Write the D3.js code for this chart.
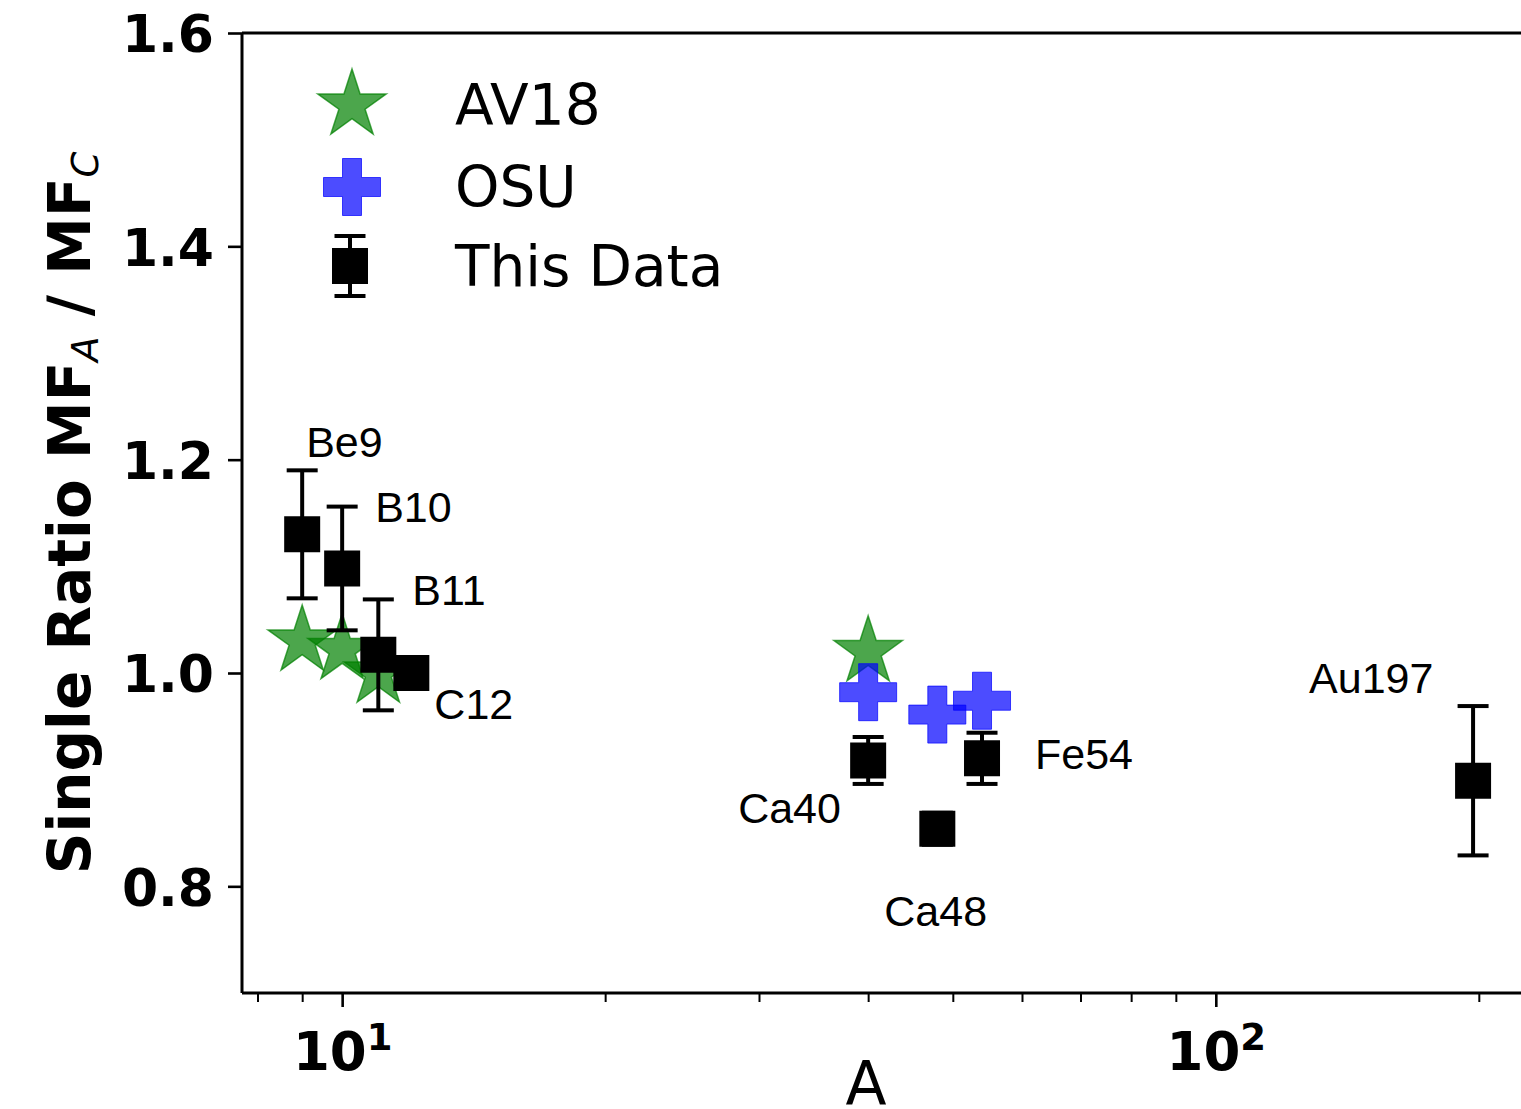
<!DOCTYPE html>
<html>
<head>
<meta charset="utf-8">
<script src="https://cdn.jsdelivr.net/npm/d3@7"></script>
<style>
  body { margin: 0; background: #fff; overflow: hidden; }
  svg { display: block; }
</style>
</head>
<body>
<svg id="canvas" width="1521" height="1109"></svg>
<script>
// data
let nuclei     = ['Be9', 'B10', 'B11', 'C12', 'Ca40', 'Ca48', 'Fe54', 'Au197']
let massNumber = [9, 10, 11, 12, 40, 48, 54, 197]
let ratio      = [1.130, 1.098, 1.017, 1.000, 0.918, 0.854, 0.920, 0.899]
let ratioErr   = [0.060, 0.058, 0.052, 0.000, 0.022, 0.015, 0.024, 0.070]

let av18A     = [9, 10, 11, 40]
let av18Ratio = [1.030, 1.022, 1.000, 1.020]

let osuA     = [40, 48, 54]
let osuRatio = [0.982, 0.961, 0.974]

let yTicks      = [0.8, 1.0, 1.2, 1.4, 1.6]
let xMajorTicks = [10, 100]
let xMinorTicks = [8, 9, 20, 30, 40, 50, 60, 70, 80, 90, 200]
let legendNames = ['AV18', 'OSU', 'This Data']

// label placement (pixels from the point)
let labelOffset = {
    Be9: [4, -77], B10: [33, -46], B11: [34, -50], C12: [23, 46],
    Ca40: [-130, 63], Ca48: [-53, 97], Fe54: [53, 11], Au197: [-164, -88]
}

let canvas = d3.select('#canvas')

let x = d3.scaleLog().domain([7.68, 235]).range([242, 1540])
let y = d3.scaleLinear().domain([0.7, 1.6]).range([993, 33])

let axisFont = 'DejaVu Sans, Verdana, sans-serif'
let noteFont = 'Liberation Sans, Arial, Helvetica, sans-serif'

let starPath  = d3.symbol().type(d3.symbolStar).size(1455)()
let crossPath = d3.symbol().type(d3.symbolCross).size(1805)()
let squarePath = d3.symbol().type(d3.symbolSquare).size(1296)()

// ---- axes ----
let yAxis = canvas.append('g')
    .attr('transform', 'translate(242,0)')
    .call(d3.axisLeft(y).tickValues(yTicks).tickSize(14).tickPadding(14).tickFormat(d3.format('.1f')))
yAxis.select('.domain').remove()
yAxis.selectAll('.tick line').attr('stroke', '#000').attr('stroke-width', 2.6)
yAxis.selectAll('.tick text')
    .attr('font-family', axisFont).attr('font-weight', 'bold').attr('font-size', 52)
    .attr('fill', '#000').attr('dy', '0.36em')

let xMinor = canvas.append('g')
    .attr('transform', 'translate(0,993)')
    .call(d3.axisBottom(x).tickValues(xMinorTicks).tickSize(9).tickFormat(''))
xMinor.select('.domain').remove()
xMinor.selectAll('.tick line').attr('stroke', '#000').attr('stroke-width', 2)

let xMajor = canvas.append('g')
    .attr('transform', 'translate(0,993)')
    .call(d3.axisBottom(x).tickValues(xMajorTicks).tickSize(14).tickFormat(''))
xMajor.select('.domain').remove()
xMajor.selectAll('.tick line').attr('stroke', '#000').attr('stroke-width', 2.6)
xMajor.selectAll('.tick text').each(function (d) {
    let t = d3.select(this)
        .attr('y', 77).attr('dy', 0)
        .attr('font-family', axisFont).attr('font-weight', 'bold')
        .attr('font-size', 53).attr('fill', '#000')
    t.append('tspan').text('10')
    t.append('tspan').attr('dy', -20).attr('font-size', 37).text(Math.round(Math.log10(d)))
})

// spines
canvas.append('line').attr('x1', 242).attr('x2', 1540).attr('y1', 33).attr('y2', 33)
    .attr('stroke', '#000').attr('stroke-width', 3)
canvas.append('line').attr('x1', 242).attr('x2', 1540).attr('y1', 993).attr('y2', 993)
    .attr('stroke', '#000').attr('stroke-width', 3)
canvas.append('line').attr('x1', 242).attr('x2', 242).attr('y1', 33).attr('y2', 993)
    .attr('stroke', '#000').attr('stroke-width', 3)

// axis titles
let yTitle = canvas.append('text')
    .attr('transform', 'translate(90,513) rotate(-90)')
    .attr('text-anchor', 'middle')
    .attr('font-family', axisFont).attr('font-size', 58).attr('font-weight', 'bold')
yTitle.append('tspan').text('Single Ratio MF')
yTitle.append('tspan').attr('font-style', 'italic').attr('font-weight', 'normal')
    .attr('font-size', 37).attr('dy', 8).text('A')
yTitle.append('tspan').attr('dy', -8).text('\u00a0/ MF')
yTitle.append('tspan').attr('font-style', 'italic').attr('font-weight', 'normal')
    .attr('font-size', 37).attr('dy', 8).text('C')

canvas.append('text')
    .attr('x', 866).attr('y', 1104)
    .attr('text-anchor', 'middle')
    .attr('font-family', axisFont).attr('font-size', 60)
    .text('A')

// ---- series ----
canvas.append('g').selectAll('path')
    .data(av18A)
    .enter()
    .append('path')
    .attr('d', starPath)
    .attr('transform', (d, i) => 'translate(' + x(d) + ',' + y(av18Ratio[i]) + ')')
    .attr('fill', 'green').attr('fill-opacity', 0.7)
    .attr('stroke', 'green').attr('stroke-opacity', 0.7).attr('stroke-width', 1.5)

canvas.append('g').selectAll('path')
    .data(osuA)
    .enter()
    .append('path')
    .attr('d', crossPath)
    .attr('transform', (d, i) => 'translate(' + x(d) + ',' + y(osuRatio[i]) + ')')
    .attr('fill', 'blue').attr('fill-opacity', 0.7)
    .attr('stroke', 'blue').attr('stroke-opacity', 0.7).attr('stroke-width', 1)

let points = massNumber.map((a, i) => ({ name: nuclei[i], a: a, r: ratio[i], e: ratioErr[i] }))
let errPoints = points.filter(p => p.e > 0)

let bars = canvas.append('g').attr('stroke', '#000')
bars.selectAll('.bar').data(errPoints).enter().append('line')
    .attr('x1', d => x(d.a)).attr('x2', d => x(d.a))
    .attr('y1', d => y(d.r + d.e)).attr('y2', d => y(d.r - d.e))
    .attr('stroke-width', 4)
bars.selectAll('.capTop').data(errPoints).enter().append('line')
    .attr('x1', d => x(d.a) - 15.5).attr('x2', d => x(d.a) + 15.5)
    .attr('y1', d => y(d.r + d.e)).attr('y2', d => y(d.r + d.e))
    .attr('stroke-width', 4)
bars.selectAll('.capBottom').data(errPoints).enter().append('line')
    .attr('x1', d => x(d.a) - 15.5).attr('x2', d => x(d.a) + 15.5)
    .attr('y1', d => y(d.r - d.e)).attr('y2', d => y(d.r - d.e))
    .attr('stroke-width', 4)

canvas.append('g').selectAll('path')
    .data(points)
    .enter()
    .append('path')
    .attr('d', squarePath)
    .attr('transform', d => 'translate(' + x(d.a) + ',' + y(d.r) + ')')
    .attr('fill', '#000')

canvas.append('g').selectAll('text')
    .data(points)
    .enter()
    .append('text')
    .attr('x', d => x(d.a) + labelOffset[d.name][0])
    .attr('y', d => y(d.r) + labelOffset[d.name][1])
    .attr('font-family', noteFont).attr('font-size', 43)
    .text(d => d.name)

// ---- legend ----
let legend = canvas.append('g')
let rowY = [105, 187, 266]
legend.append('path').attr('d', starPath)
    .attr('transform', 'translate(352,' + rowY[0] + ')')
    .attr('fill', 'green').attr('fill-opacity', 0.7)
    .attr('stroke', 'green').attr('stroke-opacity', 0.7).attr('stroke-width', 1.5)
legend.append('path').attr('d', crossPath)
    .attr('transform', 'translate(352,' + rowY[1] + ')')
    .attr('fill', 'blue').attr('fill-opacity', 0.7)
    .attr('stroke', 'blue').attr('stroke-opacity', 0.7).attr('stroke-width', 1)
let lg = legend.append('g').attr('transform', 'translate(350,' + rowY[2] + ')').attr('stroke', '#000').attr('stroke-width', 4)
lg.append('line').attr('x1', 0).attr('x2', 0).attr('y1', -30).attr('y2', 30)
lg.append('line').attr('x1', -15.5).attr('x2', 15.5).attr('y1', -30).attr('y2', -30)
lg.append('line').attr('x1', -15.5).attr('x2', 15.5).attr('y1', 30).attr('y2', 30)
lg.append('path').attr('d', squarePath).attr('fill', '#000').attr('stroke', 'none')

legend.selectAll('text')
    .data(legendNames)
    .enter()
    .append('text')
    .attr('x', 455)
    .attr('y', (d, i) => rowY[i] + 20)
    .attr('font-family', axisFont).attr('font-size', 56.5)
    .text(d => d)
</script>
</body>
</html>
